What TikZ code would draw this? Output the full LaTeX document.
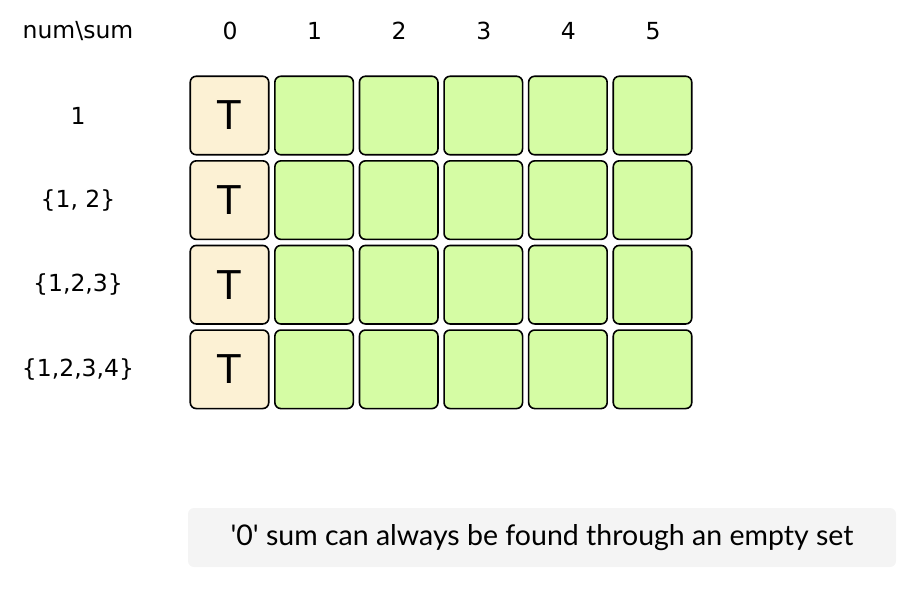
\documentclass[tikz,border=0pt]{standalone}
\usepackage{fontspec}
\setmainfont{DejaVu Sans}
\newfontfamily\cellfont{Liberation Sans}
\newfontfamily\notefont{Lato}
\usepackage{tikz}
\usetikzlibrary{positioning}
\definecolor{basefill}{HTML}{FCF1D4}
\definecolor{openfill}{HTML}{D5FCA4}
\definecolor{notefill}{HTML}{F4F4F4}
\tikzstyle{cell}=[rectangle, rounded corners=6pt, draw=black, line width=1.6pt, minimum width=78.5pt, minimum height=78.5pt, inner sep=0pt, font=\cellfont\fontsize{42}{44}\selectfont]
\tikzstyle{base}=[cell, fill=basefill]
\tikzstyle{open}=[cell, fill=openfill]
\tikzstyle{head}=[font=\fontsize{23.5}{26}\selectfont]

\begin{document}
\begin{tikzpicture}[x=1pt, y=-1pt]
          \useasboundingbox (0,0) rectangle (908,590);
          \node[head] (corner) at (78,31) {num\textbackslash sum};
          \foreach \s in {0,...,5}
                \node[head] (s\s) at (230+84.6*\s,31) {\s};

          \node[head] (r0) at (78,115.5) {1};
          \node[head] (r1) at (78,200) {\{1, 2\}};
          \node[head] (r2) at (78,284.5) {\{1,2,3\}};
          \node[head] (r3) at (78,369) {\{1,2,3,4\}};

          \foreach \r in {0,...,3} {
                \node[base] (c\r0) at (229.5,115.5+84.6*\r) {T};
                \foreach \s in {1,...,5}
                      \node[open] (c\r\s) at (229.5+84.6*\s,115.5+84.6*\r) {};
          }

          \node[rectangle, rounded corners=6pt, fill=notefill, minimum width=708pt, minimum height=59pt,
                font=\notefont\fontsize{28.5}{30}\selectfont] (note) at (542,537.5)
                {'0' sum can always be found through an empty set};
        \end{tikzpicture}
\end{document}
